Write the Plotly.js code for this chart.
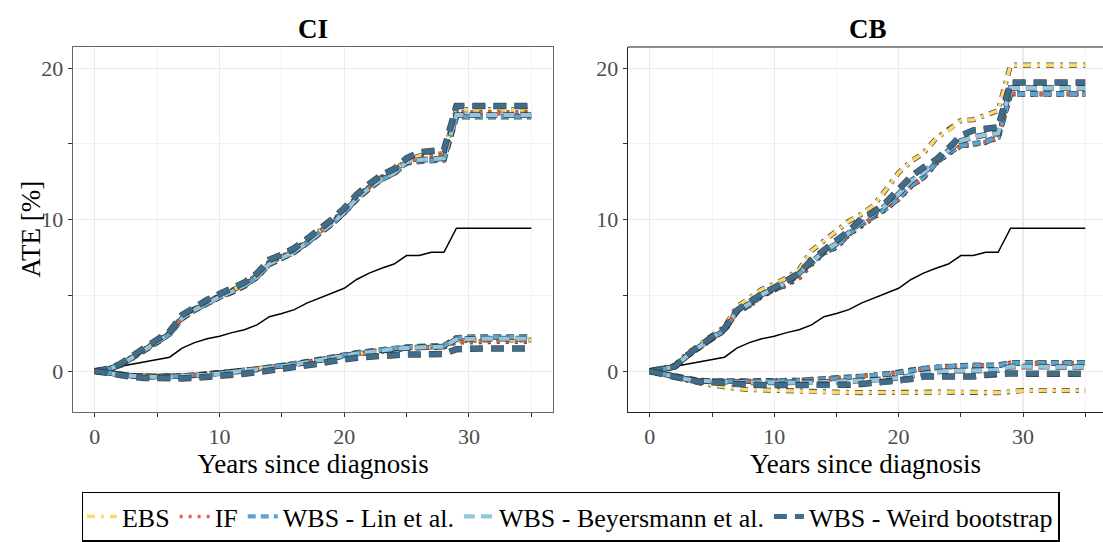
<!DOCTYPE html>
<html>
<head>
<meta charset="utf-8">
<script src="https://cdn.plot.ly/plotly-3.0.1.min.js"></script>
<style>html,body{margin:0;padding:0;background:#fff;}#chart{width:1103px;height:542px;}</style>
</head>
<body>
<div id="chart"></div>
<script>
// ---------------- data ----------------
const years = [0,1,2,3,4,5,6,7,8,9,10,11,12,13,14,15,16,17,18,19,20,21,22,23,24,25,26,27,28,29,30,31,32,33,34,35];
const estimate = [0,0.15,0.3,0.45,0.6,0.74,0.92,1.52,1.88,2.14,2.3,2.54,2.73,3.05,3.59,3.8,4.06,4.49,4.81,5.11,5.47,6.05,6.47,6.79,7.07,7.63,7.63,7.84,7.84,9.44,9.44,9.44,9.44,9.44,9.44,9.44];

const methodNames = ["EBS", "IF", "WBS - Lin et al.", "WBS - Beyersmann et al.", "WBS - Weird bootstrap"];

// CI panel: upper bounds
const ciUpperEBS   = [0,0.13,0.42,0.92,1.48,1.98,2.55,3.6,4.12,4.58,4.98,5.33,5.75,6.32,7.2,7.58,8.0,8.6,9.2,9.85,10.6,11.5,12.2,12.8,13.2,13.95,14.2,14.3,14.35,17.25,17.25,17.25,17.25,17.25,17.25,17.25];
const ciUpperIF    = [0,0.12,0.4,0.9,1.45,1.95,2.5,3.55,4.1,4.55,4.95,5.3,5.7,6.28,7.15,7.55,7.95,8.55,9.15,9.8,10.55,11.45,12.15,12.75,13.15,13.85,14.05,14.2,14.25,17.05,17.05,17.05,17.05,17.05,17.05,17.05];
const ciUpperLin   = [0,0.1,0.36,0.85,1.4,1.9,2.45,3.48,4.02,4.48,4.88,5.22,5.62,6.2,7.05,7.45,7.85,8.45,9.05,9.7,10.45,11.35,12.05,12.65,13.05,13.75,13.85,13.9,13.95,16.8,16.8,16.8,16.8,16.8,16.8,16.8];
const ciUpperBey   = [0,0.11,0.38,0.87,1.42,1.92,2.47,3.5,4.05,4.5,4.9,5.25,5.65,6.22,7.08,7.48,7.88,8.48,9.08,9.72,10.48,11.38,12.08,12.68,13.08,13.8,13.95,14.0,14.05,16.9,16.9,16.9,16.9,16.9,16.9,16.9];
const ciUpperWeird = [0,0.15,0.45,0.97,1.55,2.05,2.62,3.7,4.25,4.7,5.1,5.45,5.85,6.45,7.35,7.7,8.12,8.72,9.35,10.0,10.75,11.65,12.35,12.95,13.35,14.05,14.45,14.55,14.6,17.5,17.5,17.5,17.5,17.5,17.5,17.5];
// CI panel: lower bounds
const ciLowerEBS   = [0,-0.12,-0.21,-0.29,-0.33,-0.35,-0.34,-0.31,-0.26,-0.2,-0.13,-0.04,0.06,0.15,0.24,0.35,0.47,0.6,0.75,0.9,1.05,1.15,1.25,1.37,1.47,1.52,1.56,1.6,1.62,2.0,2.05,2.05,2.05,2.05,2.05,2.05];
const ciLowerIF    = [0,-0.12,-0.22,-0.3,-0.35,-0.37,-0.36,-0.33,-0.28,-0.22,-0.15,-0.06,0.04,0.13,0.22,0.33,0.45,0.58,0.73,0.88,1.02,1.12,1.22,1.34,1.44,1.5,1.54,1.57,1.6,1.92,1.95,1.95,1.95,1.95,1.95,1.95];
const ciLowerLin   = [0,-0.12,-0.22,-0.3,-0.35,-0.37,-0.36,-0.33,-0.28,-0.22,-0.15,-0.05,0.05,0.14,0.23,0.35,0.48,0.62,0.78,0.95,1.1,1.2,1.3,1.42,1.52,1.58,1.62,1.65,1.67,2.2,2.25,2.25,2.25,2.25,2.25,2.25];
const ciLowerBey   = [0,-0.13,-0.24,-0.32,-0.37,-0.39,-0.38,-0.35,-0.3,-0.24,-0.17,-0.08,0.02,0.11,0.2,0.32,0.44,0.58,0.74,0.9,1.05,1.15,1.25,1.37,1.47,1.53,1.57,1.6,1.62,2.1,2.15,2.15,2.15,2.15,2.15,2.15];
const ciLowerWeird = [0,-0.15,-0.28,-0.38,-0.45,-0.48,-0.5,-0.48,-0.45,-0.4,-0.33,-0.25,-0.17,-0.08,0.02,0.12,0.23,0.36,0.5,0.65,0.8,0.88,0.95,1.02,1.08,1.1,1.1,1.12,1.13,1.45,1.5,1.5,1.5,1.5,1.5,1.5];

// CB panel: upper bounds
const cbUpperEBS   = [0,0.15,0.38,1.15,1.8,2.35,2.9,4.25,4.8,5.4,5.75,6.15,6.7,7.95,8.6,9.25,9.9,10.35,10.95,12.0,13.1,13.85,14.4,15.35,15.9,16.55,16.6,16.9,17.2,20.2,20.2,20.2,20.2,20.2,20.2,20.2];
const cbUpperIF    = [0,0.1,0.26,0.98,1.6,2.12,2.66,3.9,4.3,4.95,5.35,5.68,6.15,7.05,7.8,8.15,9.0,9.62,10.15,10.7,11.35,12.2,12.75,13.7,14.35,14.85,14.95,15.1,15.4,18.3,18.3,18.3,18.3,18.3,18.3,18.3];
const cbUpperLin   = [0,0.1,0.27,1.0,1.62,2.15,2.7,3.95,4.35,5.0,5.4,5.72,6.45,7.1,7.85,8.2,9.05,9.68,10.2,10.75,11.4,12.25,12.8,13.75,14.4,14.9,15.0,15.15,15.45,18.3,18.3,18.3,18.3,18.3,18.3,18.3];
const cbUpperBey   = [0,0.11,0.28,1.02,1.65,2.2,2.75,3.98,4.45,5.05,5.45,5.85,6.45,7.2,7.9,8.4,9.15,9.85,10.35,10.95,11.7,12.55,13.1,13.85,14.55,15.2,15.45,15.6,15.7,18.7,18.7,18.7,18.7,18.7,18.7,18.7];
const cbUpperWeird = [0,0.12,0.3,1.05,1.7,2.25,2.8,4.0,4.55,5.1,5.5,5.95,6.45,7.35,7.95,8.6,9.25,10.05,10.5,11.15,12.0,12.85,13.45,13.95,14.7,15.55,15.9,16.0,16.1,19.05,19.05,19.05,19.05,19.05,19.05,19.05];
// CB panel: lower bounds
const cbLowerEBS   = [0,-0.2,-0.42,-0.62,-0.79,-0.92,-1.05,-1.15,-1.22,-1.25,-1.28,-1.32,-1.37,-1.38,-1.39,-1.4,-1.41,-1.42,-1.43,-1.43,-1.43,-1.42,-1.4,-1.38,-1.37,-1.38,-1.4,-1.42,-1.43,-1.33,-1.28,-1.28,-1.28,-1.28,-1.28,-1.28];
const cbLowerIF    = [0,-0.18,-0.36,-0.52,-0.63,-0.67,-0.68,-0.68,-0.68,-0.67,-0.66,-0.64,-0.62,-0.58,-0.55,-0.48,-0.41,-0.35,-0.3,-0.2,-0.11,0.05,0.17,0.25,0.32,0.35,0.38,0.38,0.38,0.53,0.52,0.52,0.52,0.52,0.52,0.52];
const cbLowerLin   = [0,-0.18,-0.36,-0.52,-0.63,-0.67,-0.68,-0.68,-0.68,-0.67,-0.66,-0.64,-0.62,-0.58,-0.55,-0.48,-0.41,-0.35,-0.3,-0.2,-0.11,0.05,0.17,0.25,0.32,0.35,0.38,0.38,0.38,0.55,0.55,0.55,0.55,0.55,0.55,0.55];
const cbLowerBey   = [0,-0.19,-0.37,-0.54,-0.65,-0.69,-0.7,-0.72,-0.74,-0.75,-0.76,-0.77,-0.78,-0.76,-0.72,-0.7,-0.68,-0.65,-0.6,-0.53,-0.45,-0.3,-0.15,-0.05,0.02,0.04,0.05,0.06,0.06,0.3,0.28,0.28,0.28,0.28,0.28,0.28];
const cbLowerWeird = [0,-0.2,-0.38,-0.56,-0.68,-0.76,-0.83,-0.87,-0.9,-0.92,-0.92,-0.94,-0.95,-0.96,-0.96,-0.93,-0.9,-0.85,-0.79,-0.74,-0.68,-0.52,-0.36,-0.36,-0.36,-0.36,-0.36,-0.25,-0.15,-0.15,-0.17,-0.17,-0.17,-0.17,-0.17,-0.17];

// ---------------- styles ----------------
const styles = [
  {color: "#FFD966", dash: "8px,6px,3px,6px", w: 3.6},
  {color: "#E8603C", dash: "3px,6px", w: 3.6},
  {color: "#5BA3D0", dash: "8px,5px", w: 4.2},
  {color: "#92C5DE", dash: "11px,6px", w: 4.2},
  {color: "#3F6E8D", dash: "13px,8px", w: 5.0}
];
const outlineColor = "rgba(40,40,40,0.85)";

const ciUpper = [ciUpperEBS, ciUpperIF, ciUpperLin, ciUpperBey, ciUpperWeird];
const ciLower = [ciLowerEBS, ciLowerIF, ciLowerLin, ciLowerBey, ciLowerWeird];
const cbUpper = [cbUpperEBS, cbUpperIF, cbUpperLin, cbUpperBey, cbUpperWeird];
const cbLower = [cbLowerEBS, cbLowerIF, cbLowerLin, cbLowerBey, cbLowerWeird];

const traces = [];
function est(xa, ya) {
  traces.push({x: years, y: estimate, xaxis: xa, yaxis: ya, mode: "lines",
    line: {color: "#000", width: 1.5}, showlegend: false, hoverinfo: "skip"});
}
est("x", "y");
est("x2", "y2");

function band(xa, ya, vals, i, legend) {
  const s = styles[i];
  traces.push({x: years, y: vals, xaxis: xa, yaxis: ya, mode: "lines",
    line: {color: outlineColor, width: s.w + 1.5, dash: s.dash}, showlegend: false, hoverinfo: "skip"});
  traces.push({x: years, y: vals, xaxis: xa, yaxis: ya, mode: "lines", name: methodNames[i],
    legendgroup: methodNames[i],
    line: {color: s.color, width: s.w, dash: s.dash}, showlegend: legend});
}
for (let i = 0; i < methodNames.length; i++) {
  band("x", "y", ciUpper[i], i, true);
  band("x", "y", ciLower[i], i, false);
  band("x2", "y2", cbUpper[i], i, false);
  band("x2", "y2", cbLower[i], i, false);
}

const tickFont = {family: "Liberation Serif", size: 22, color: "#4D4D4D"};
const titleFont = {family: "Liberation Serif", size: 27, color: "#000"};
const gridC = "#EBEBEB";

function xAxis(domain, range, lineColor, mirror) {
  return {
    domain: domain, range: range, tickmode: "array", tickvals: [0, 10, 20, 30],
    ticks: "outside", ticklen: 4, tickcolor: "#333", tickfont: tickFont,
    showgrid: true, gridcolor: gridC, gridwidth: 1.1, zeroline: false,
    minor: {tickvals: [5, 15, 25, 35], ticks: "outside", ticklen: 4, tickcolor: "#333", showgrid: true, gridcolor: "#F0F0F0", gridwidth: 0.8},
    showline: true, linecolor: lineColor, linewidth: 1.3, mirror: mirror,
    title: {text: "Years since diagnosis", font: titleFont, standoff: 4}
  };
}
function yAxis(anchor, lineColor, mirror) {
  return {
    anchor: anchor, domain: [0, 1], range: [-2.7, 21.4], tickmode: "array", tickvals: [0, 10, 20],
    ticks: "outside", ticklen: 4, tickcolor: "#333", tickfont: tickFont,
    showgrid: true, gridcolor: gridC, gridwidth: 1.1, zeroline: false,
    minor: {tickvals: [5, 15], ticks: "outside", ticklen: 4, tickcolor: "#333", showgrid: true, gridcolor: "#F0F0F0", gridwidth: 0.8},
    showline: true, linecolor: lineColor, linewidth: 1.3, mirror: mirror
  };
}

const layout = {
  width: 1103, height: 542,
  margin: {l: 0, r: 0, t: 47, b: 119},
  paper_bgcolor: "#fff", plot_bgcolor: "#fff",
  font: {family: "Liberation Serif", color: "#000"},
  xaxis: xAxis([0.0662, 0.5014], [-1.75, 36.75], "#666", true),
  yaxis: yAxis("x", "#666", true),
  xaxis2: xAxis([0.5694, 1], [-1.75, 36.43], "#222", false),
  yaxis2: yAxis("x2", "#222", false),
  annotations: [
    {text: "<b>CI</b>", xref: "x domain", yref: "paper", x: 0.5, y: 1.05, xanchor: "center", yanchor: "middle",
     showarrow: false, font: {family: "Liberation Serif", size: 27, color: "#000"}},
    {text: "<b>CB</b>", xref: "x2 domain", yref: "paper", x: 0.505, y: 1.05, xanchor: "center", yanchor: "middle",
     showarrow: false, font: {family: "Liberation Serif", size: 27, color: "#000"}},
    {text: "ATE [%]", xref: "paper", yref: "paper", x: 0.0272, y: 0.5, xanchor: "center", yanchor: "middle",
     textangle: -90, showarrow: false, font: titleFont}
  ],
  shapes: [
    {type: "line", xref: "x2 domain", yref: "y2 domain", x0: 0, x1: 1, y0: 1, y1: 1, line: {color: "#666", width: 1.3}}
  ],
  showlegend: true,
  legend: {
    orientation: "h", x: 0.0743, y: -0.218, xanchor: "left", yanchor: "top",
    bordercolor: "#000", borderwidth: 1.5, bgcolor: "#fff",
    font: {family: "Liberation Serif", size: 26, color: "#000"},
    itemwidth: 30, tracegroupgap: 0
  }
};

Plotly.newPlot("chart", traces, layout, {displayModeBar: false, staticPlot: true});
</script>
</body>
</html>
